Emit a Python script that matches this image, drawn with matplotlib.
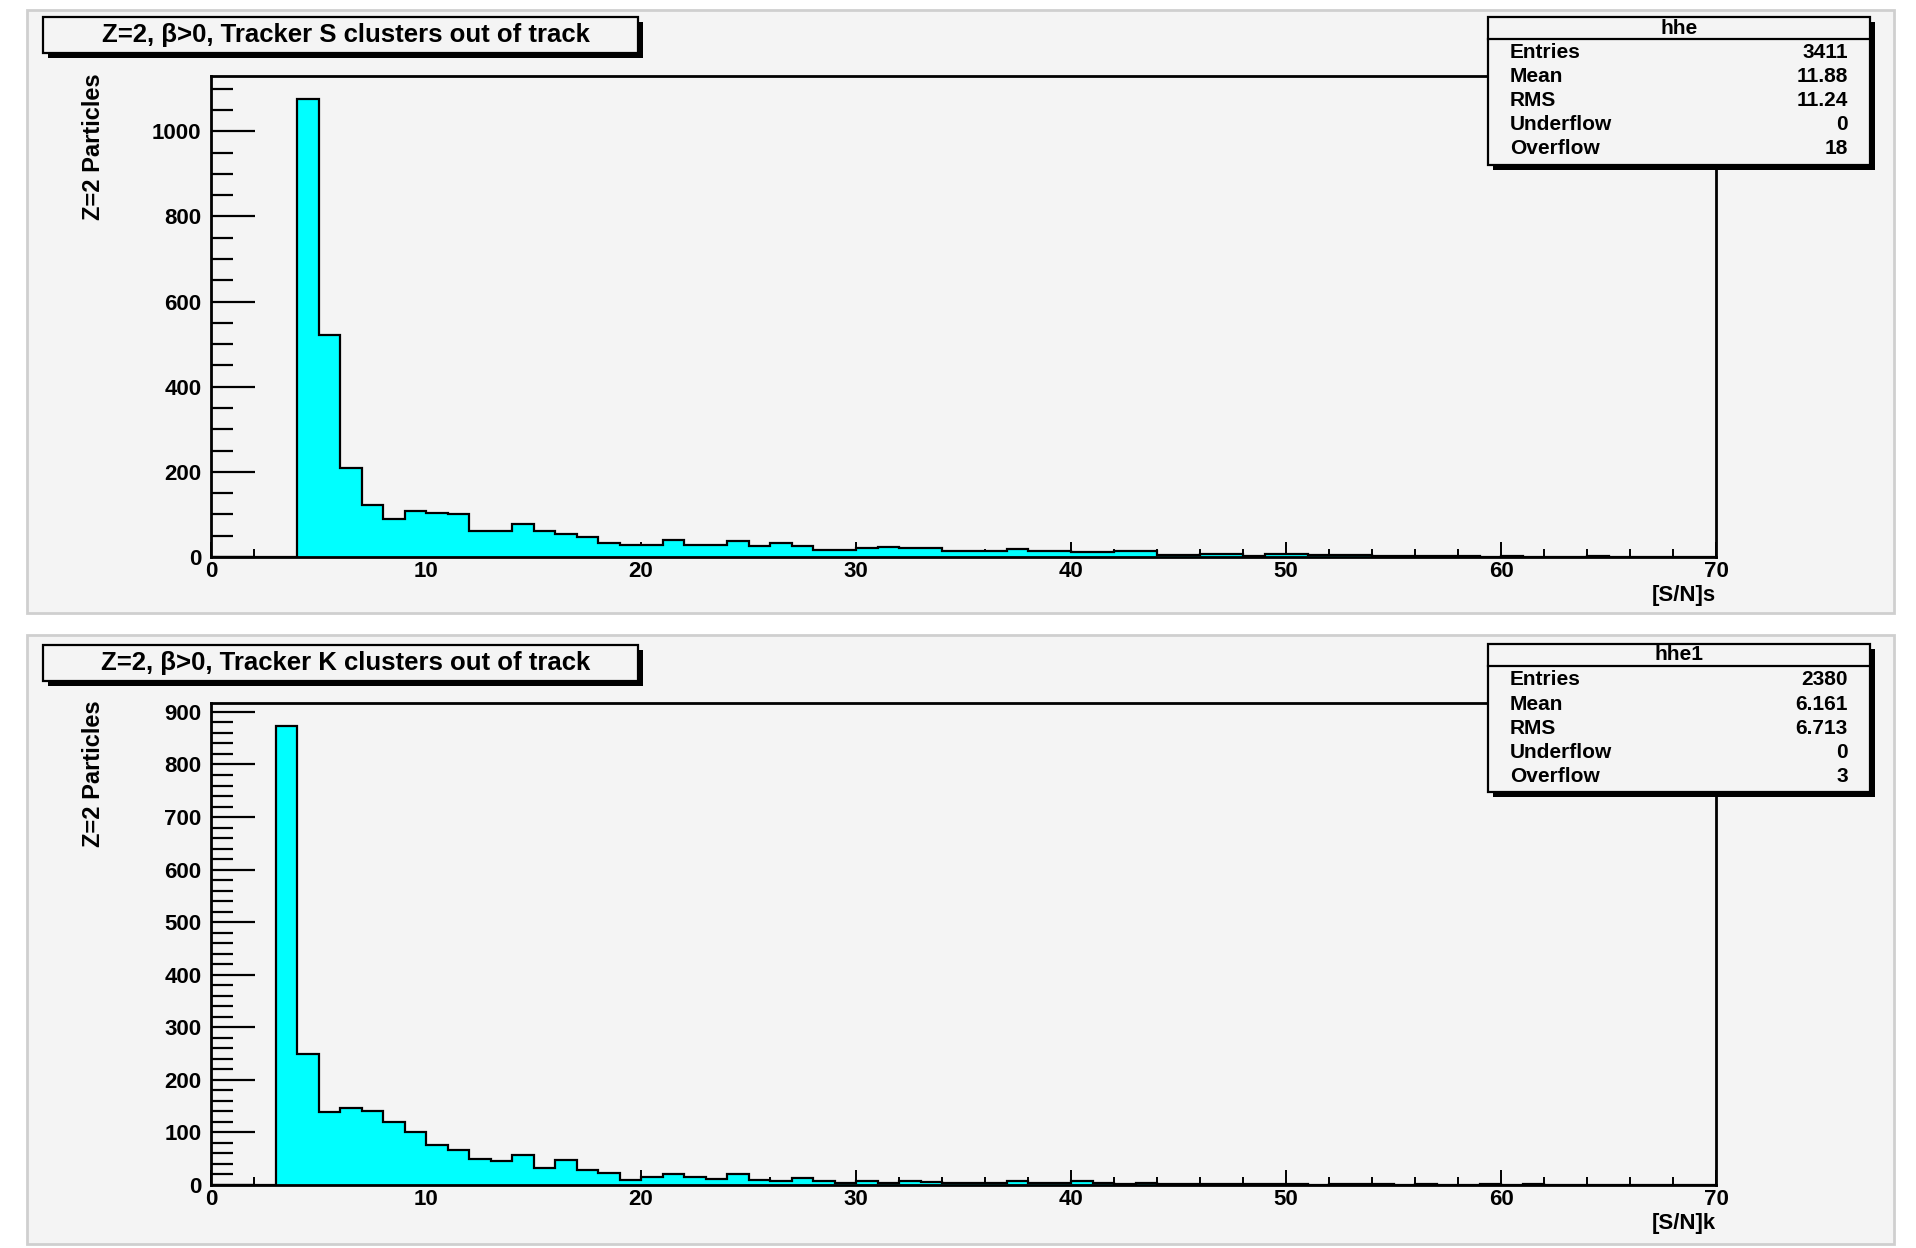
import matplotlib

matplotlib.use("Agg")
import matplotlib.pyplot as plt
import numpy as np
from matplotlib.patches import Rectangle
from matplotlib.lines import Line2D
from matplotlib.ticker import MultipleLocator

W, H = 1916, 1248
FONT = "Liberation Sans"
CYAN = "#00ffff"
PAD_BG = "#f4f4f4"

# --- data (counts per unit bin, 0..70) ---
edges = np.arange(0, 71)

counts_s = [0, 0, 0, 0, 1076, 522, 210, 123, 90, 109,
            104, 102, 60, 60, 77, 62, 55, 47, 32, 29,
            29, 40, 28, 28, 37, 27, 34, 26, 17, 17,
            20, 24, 21, 21, 13, 13, 13, 19, 15, 15,
            12, 12, 15, 15, 5, 4, 6, 6, 2, 8,
            6, 5, 5, 5, 2, 3, 2, 2, 2, 1,
            2, 1, 1, 1, 2, 1, 1, 0, 1, 1]

counts_k = [0, 0, 0, 873, 249, 139, 147, 140, 120, 100,
            76, 67, 49, 46, 57, 32, 48, 29, 23, 10,
            16, 20, 15, 11, 20, 10, 8, 13, 7, 4,
            7, 4, 7, 6, 3, 3, 4, 8, 3, 4,
            7, 3, 2, 3, 1, 2, 1, 1, 1, 2,
            1, 0, 1, 2, 1, 0, 1, 0, 0, 1,
            0, 1, 0, 0, 0, 0, 0, 0, 0, 0]

titles = ["Z=2, \u03b2>0, Tracker S clusters out of track",
          "Z=2, \u03b2>0, Tracker K clusters out of track"]
xlabels = ["[S/N]s", "[S/N]k"]
ylabel = "Z=2 Particles"
stat_names = ["Entries", "Mean", "RMS", "Underflow", "Overflow"]
stat_titles = ["hhe", "hhe1"]
stats_s = ["3411", "11.88", "11.24", "0", "18"]
stats_k = ["2380", "6.161", "6.713", "0", "3"]


def fx(x):
    return x / W


def fy(y):
    return 1 - y / H


def box(fig, x0, y0, x1, y1, shadow=5, z=5):
    fig.add_artist(Rectangle((fx(x0 + shadow), fy(y1 + shadow)), fx(x1 - x0), (y1 - y0) / H,
                             transform=fig.transFigure, facecolor="black", edgecolor="none", zorder=z))
    fig.add_artist(Rectangle((fx(x0), fy(y1)), fx(x1 - x0), (y1 - y0) / H,
                             transform=fig.transFigure, facecolor=PAD_BG, edgecolor="black",
                             linewidth=1.6, zorder=z + 0.1))


fig = plt.figure(figsize=(W / 100, H / 100), dpi=100)
fig.patch.set_facecolor("white")

panels = [
    dict(pad=(27, 10, 1894, 613), ax=(211, 76, 1716, 557), counts=counts_s, ymax=1130,
         major=200, minor=50, title_box=(43, 17, 638, 53), stat_box=(1488, 17, 1870, 165),
         stats=stats_s),
    dict(pad=(27, 635, 1894, 1244), ax=(211, 703, 1716, 1185), counts=counts_k, ymax=917,
         major=100, minor=20, title_box=(43, 645, 638, 681), stat_box=(1488, 644, 1870, 792),
         stats=stats_k),
]

for i, p in enumerate(panels):
    x0, y0, x1, y1 = p["pad"]
    fig.add_artist(Rectangle((fx(x0), fy(y1)), fx(x1 - x0), (y1 - y0) / H, transform=fig.transFigure,
                             facecolor=PAD_BG, edgecolor="#cfcfcf", linewidth=2, zorder=-5))

    a0, b0, a1, b1 = p["ax"]
    ax = fig.add_axes([fx(a0), fy(b1), fx(a1 - a0), (b1 - b0) / H])
    ax.set_facecolor(PAD_BG)
    ax.stairs(p["counts"], edges, fill=True, color=CYAN, zorder=2)
    ax.stairs(p["counts"], edges, baseline=0, color="black", linewidth=1.6, zorder=3)
    ax.set_xlim(0, 70)
    ax.set_ylim(0, p["ymax"])

    for s in ax.spines.values():
        s.set_linewidth(2)
    ax.xaxis.set_major_locator(MultipleLocator(10))
    ax.xaxis.set_minor_locator(MultipleLocator(2))
    ax.yaxis.set_major_locator(MultipleLocator(p["major"]))
    ax.yaxis.set_minor_locator(MultipleLocator(p["minor"]))
    ax.tick_params(axis="y", which="major", direction="in", length=32, width=1.6, pad=7)
    ax.tick_params(axis="y", which="minor", direction="in", length=16, width=1.6)
    ax.tick_params(axis="x", which="major", direction="in", length=11, width=1.4, pad=3)
    ax.tick_params(axis="x", which="minor", direction="in", length=5.5, width=1.4)
    for lab in ax.get_xticklabels() + ax.get_yticklabels():
        lab.set_fontfamily(FONT)
        lab.set_fontweight("bold")
        lab.set_fontsize(16)

    ax.text(-0.078, 1.005, ylabel, rotation=90, va="top", ha="center", transform=ax.transAxes,
            fontfamily=FONT, fontweight="bold", fontsize=17)
    ax.text(1.0, -0.08, xlabels[i], ha="right", va="center", transform=ax.transAxes,
            fontfamily=FONT, fontweight="bold", fontsize=16)

    # title pave
    t0, u0, t1, u1 = p["title_box"]
    box(fig, t0, u0, t1, u1)
    fig.text(fx((t0 + t1) / 2 + 5), fy((u0 + u1) / 2), titles[i], ha="center", va="center",
             fontfamily=FONT, fontweight="bold", fontsize=18.5, zorder=6)

    # stats pave
    s0, v0, s1, v1 = p["stat_box"]
    box(fig, s0, v0, s1, v1)
    fig.add_artist(Line2D([fx(s0), fx(s1)], [fy(v0 + 22), fy(v0 + 22)], transform=fig.transFigure,
                          color="black", linewidth=1.6, zorder=6))
    fig.text(fx((s0 + s1) / 2), fy(v0 + 11), stat_titles[i], ha="center", va="center",
             fontfamily=FONT, fontweight="bold", fontsize=15, zorder=6)
    for k, (name, val) in enumerate(zip(stat_names, p["stats"])):
        yy = v0 + 36 + k * 24
        fig.text(fx(s0 + 22), fy(yy), name, ha="left", va="center",
                 fontfamily=FONT, fontweight="bold", fontsize=15, zorder=6)
        fig.text(fx(s1 - 22), fy(yy), val, ha="right", va="center",
                 fontfamily=FONT, fontweight="bold", fontsize=15, zorder=6)

fig.savefig("out.png", dpi=100)
